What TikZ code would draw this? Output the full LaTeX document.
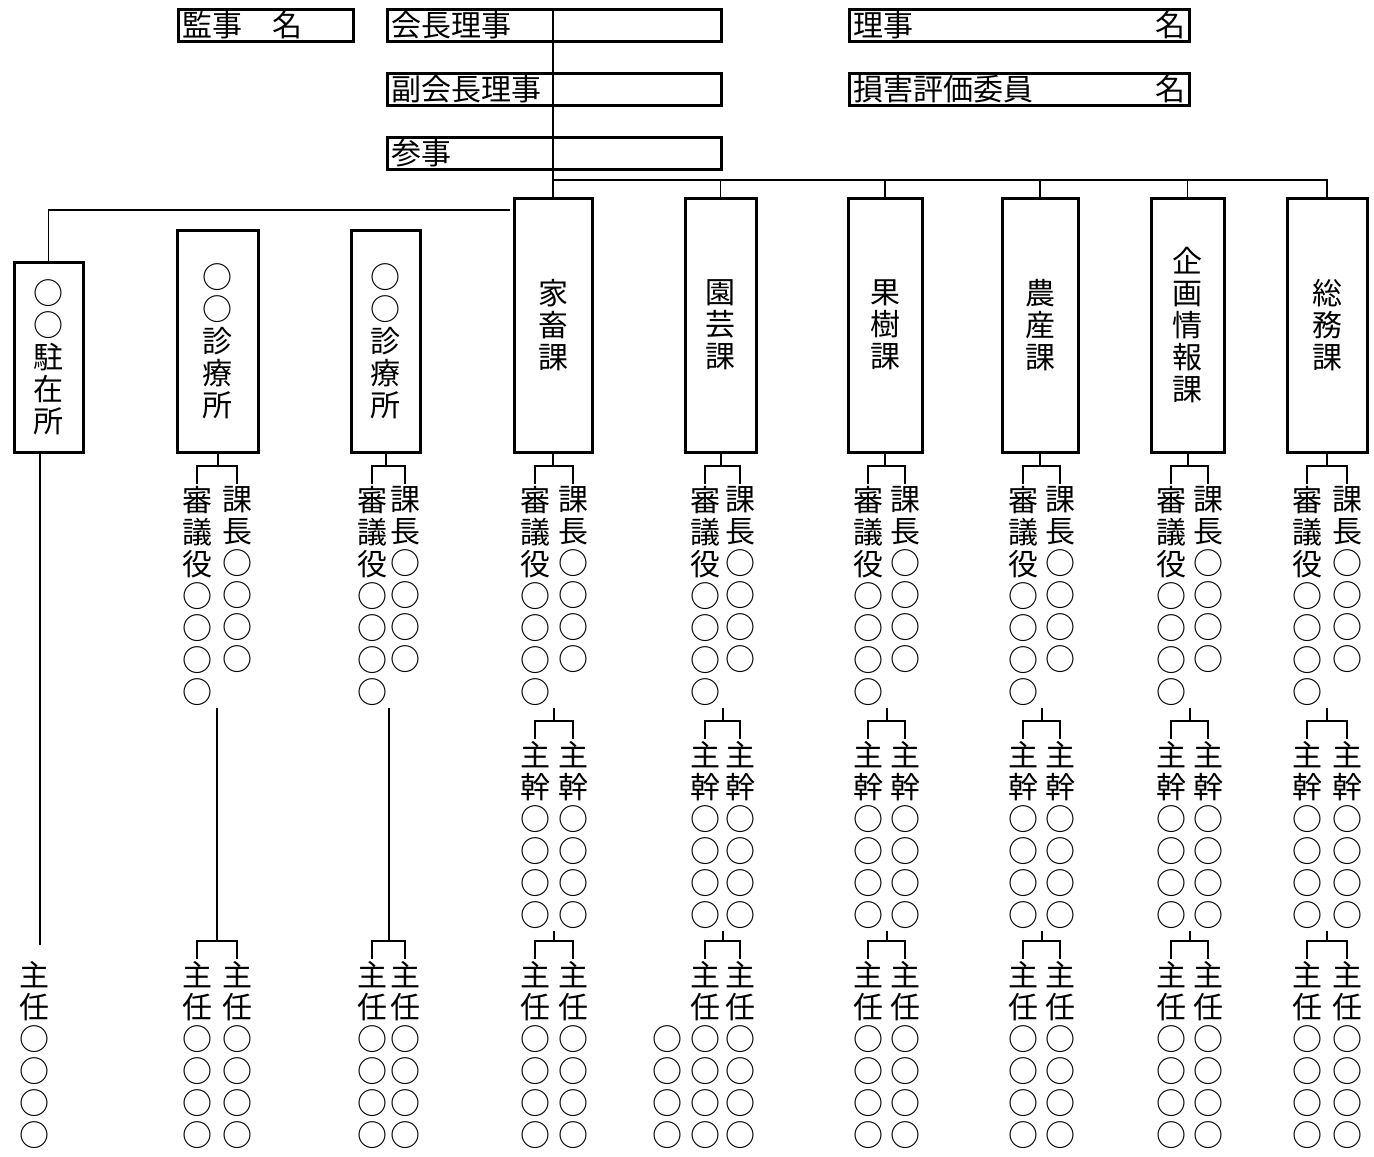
\documentclass[tikz,border=0pt]{standalone}
\usepackage{fontspec}
\setmainfont{Noto Sans CJK JP}
\usetikzlibrary{calc}

% bracket from a parent point down to two columns
\newcommand{\fork}[3]{%
  \path ($(#2.north)+(0,-18)$) coordinate (fa) ($(#3.north)+(0,-18)$) coordinate (fb);
  \draw[link] (#2.north) -- (fa) -- (fb) -- (#3.north) (#1) -- (#1 |- fa);}

\begin{document}
\begin{tikzpicture}[x=0.5pt,y=-0.5pt,
  box/.style={draw,line width=1.5pt,inner sep=0pt,align=center,font=\fontsize{15}{16}\selectfont},
  topbox/.style={draw,line width=1.5pt,inner xsep=2pt,inner ysep=0pt,minimum height=16pt,anchor=north west,font=\fontsize{15}{16}\selectfont},
  col/.style={inner sep=1pt,align=center,anchor=north,font=\fontsize{15}{16}\selectfont},
  link/.style={line width=1pt},
  bus/.style={line width=0.8pt}]
\useasboundingbox (0,0) rectangle (1374,1156);

% officers
\node[topbox] (kanji) at (177,8) {\makebox[83.5pt][l]{監事　名}};
\node[topbox] (kaicho) at (386,8) {\makebox[163pt][l]{会長理事}};
\node[topbox] (fuku) at (386,72) {\makebox[163pt][l]{副会長理事}};
\node[topbox] (sanji) at (386,136) {\makebox[163pt][l]{参事}};
\node[topbox] (riji) at (848,8) {\makebox[166pt]{理事\hfill 名}};
\node[topbox] (songai) at (848,72) {\makebox[166pt]{損害評価委員\hfill 名}};

% sections
\node[box,minimum width=34.5pt,minimum height=95pt] (chuzai) at (48.5,357) {○\\○\\駐\\在\\所};
\node[box,minimum width=40.5pt,minimum height=111pt] (shin1) at (217.5,341) {○\\○\\診\\療\\所};
\node[box,minimum width=34.5pt,minimum height=111pt] (shin2) at (385.5,341) {○\\○\\診\\療\\所};
\node[box,minimum width=39pt,minimum height=127pt] (kachiku) at (553,325) {家\\畜\\課};
\node[box,minimum width=35.5pt,minimum height=127pt] (engei) at (720.5,325) {園\\芸\\課};
\node[box,minimum width=37pt,minimum height=127pt] (kaju) at (885,325) {果\\樹\\課};
\node[box,minimum width=38pt,minimum height=127pt] (nosan) at (1040,325) {農\\産\\課};
\node[box,minimum width=36.5pt,minimum height=127pt] (kikaku) at (1187.5,325) {企\\画\\情\\報\\課};
\node[box,minimum width=40pt,minimum height=127pt] (somu) at (1327,325) {総\\務\\課};

% trunk and buses
\draw[line width=1.2pt] (kaicho.north -| kachiku.north) -- (kachiku.north);
\coordinate (bus) at (553,180);
\draw[bus] (bus) -| (somu.north);
\foreach \d in {engei,kaju,nosan,kikaku} \draw[bus] (bus -| \d.north) -- (\d.north);
\coordinate (lbus) at (510,210);
\draw[bus] (lbus) -| (chuzai.north);

% staff columns
\foreach \d/\a/\b in {shin1/197/237,shin2/372/405,kachiku/535/573,engei/705/740,kaju/868/905,nosan/1023/1060,kikaku/1171/1208,somu/1307/1347} {
  \node[col] (\d-1a) at (\a,484) {審\\議\\役\\○\\○\\○\\○};
  \node[col] (\d-1b) at (\b,484) {課\\長\\○\\○\\○\\○};
  \fork{\d.south}{\d-1a}{\d-1b}
  \coordinate (\d-1m) at ($(\d-1a.south)!0.5!(\d-1a.south -| \d-1b.south)$);
  \node[col] (\d-3a) at (\a,959) {主\\任\\○\\○\\○\\○};
  \node[col] (\d-3b) at (\b,959) {主\\任\\○\\○\\○\\○};
}
\foreach \d in {shin1,shin2} \fork{\d-1m}{\d-3a}{\d-3b};
\foreach \d/\a/\b in {kachiku/535/573,engei/705/740,kaju/868/905,nosan/1023/1060,kikaku/1171/1208,somu/1307/1347} {
  \node[col] (\d-2a) at (\a,739) {主\\幹\\○\\○\\○\\○};
  \node[col] (\d-2b) at (\b,739) {主\\幹\\○\\○\\○\\○};
  \fork{\d-1m}{\d-2a}{\d-2b}
  \coordinate (\d-2m) at ($(\d-2a.south)!0.5!(\d-2b.south)$);
  \fork{\d-2m}{\d-3a}{\d-3b}
}
\node[col,anchor=south] (engei-3c) at (engei-3a.south -| 667,0) {○\\○\\○\\○};

\node[col] (chuzai-3a) at (34,959) {主\\任\\○\\○\\○\\○};
\draw[link] ($(chuzai.south -| chuzai-3a.north)+(6,0)$) -- ($(chuzai-3a.north)+(6,-14)$);
\end{tikzpicture}
\end{document}
